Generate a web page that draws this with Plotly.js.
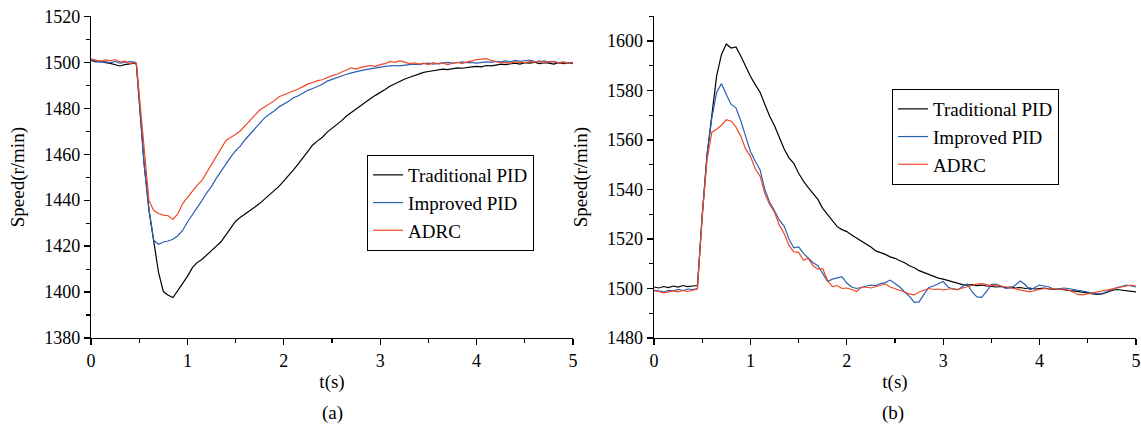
<!DOCTYPE html>
<html>
<head>
<meta charset="utf-8">
<script src="https://cdn.plot.ly/plotly-3.0.1.min.js"></script>
<style>html,body{margin:0;padding:0;background:#fff;}#chart{width:1141px;height:430px;}</style>
</head>
<body>
<div id="chart"></div>
<script>
// time samples (s), shared by both panels
const time = [0,0.05,0.1,0.15,0.2,0.25,0.3,0.35,0.4,0.45,0.47,0.5,0.55,0.6,0.65,0.7,0.75,0.8,0.85,0.9,0.95,
1.0,1.05,1.1,1.15,1.2,1.25,1.3,1.35,1.4,1.45,1.5,1.55,1.6,1.65,1.7,1.75,1.8,1.85,1.9,1.95,
2.0,2.05,2.1,2.15,2.2,2.25,2.3,2.35,2.4,2.45,2.5,2.55,2.6,2.65,2.7,2.75,2.8,2.85,2.9,2.95,
3.0,3.05,3.1,3.15,3.2,3.25,3.3,3.35,3.4,3.45,3.5,3.55,3.6,3.65,3.7,3.75,3.8,3.85,3.9,3.95,
4.0,4.05,4.1,4.15,4.2,4.25,4.3,4.35,4.4,4.45,4.5,4.55,4.6,4.65,4.7,4.75,4.8,4.85,4.9,4.95,5.0];

const seriesNames = ["Traditional PID", "Improved PID", "ADRC"];

// (a) speed drop
const a_traditional = [1500.8,1500.2,1500.5,1499.8,1499.5,1498.8,1498.4,1499.0,1499.3,1499.6,1499.2,1484.0,1456.0,1436.0,1423.0,1408.5,1400.2,1398.6,1397.6,1400.5,1403.8,
1406.8,1410.5,1412.8,1414.2,1416.0,1418.2,1420.0,1422.0,1425.0,1428.2,1430.8,1432.6,1434.0,1435.6,1437.0,1438.6,1440.4,1442.0,1443.8,1446.0,
1448.4,1450.6,1453.2,1455.8,1458.4,1461.2,1464.0,1465.8,1467.4,1469.6,1471.2,1472.8,1474.6,1476.6,1478.2,1479.8,1481.2,1482.8,1484.2,1485.6,
1486.8,1488.2,1489.6,1490.6,1491.8,1492.6,1493.4,1494.2,1494.8,1495.6,1496.0,1496.4,1496.8,1497.0,1496.8,1497.2,1497.6,1497.4,1497.8,1498.0,
1498.2,1498.0,1498.6,1498.4,1498.8,1499.2,1499.0,1499.4,1499.6,1499.2,1499.8,1499.6,1500.0,1499.4,1499.8,1499.6,1499.2,1499.8,1499.4,1499.8,1499.4];
const a_improved = [1501.0,1500.6,1500.0,1500.3,1499.8,1500.4,1499.6,1499.9,1500.3,1500.1,1499.5,1484.0,1456.0,1436.0,1422.5,1420.8,1421.8,1422.2,1423.0,1424.5,1426.8,
1430.5,1433.6,1436.2,1439.8,1443.2,1446.0,1449.6,1452.8,1456.0,1458.8,1461.5,1463.6,1466.4,1468.8,1471.4,1473.6,1475.8,1477.4,1478.8,1480.6,
1481.8,1483.0,1484.6,1485.4,1486.6,1487.8,1488.6,1489.6,1490.4,1491.8,1492.6,1493.4,1494.0,1494.8,1495.4,1496.0,1496.4,1496.8,1497.2,1497.6,
1497.8,1498.2,1498.4,1498.6,1498.4,1498.8,1499.0,1499.2,1499.0,1499.4,1499.6,1499.2,1499.6,1499.8,1500.0,1499.6,1499.8,1500.2,1499.8,1500.0,
1499.6,1499.8,1500.2,1500.0,1500.4,1500.2,1500.6,1500.2,1500.8,1500.4,1500.6,1501.0,1500.4,1500.2,1500.6,1500.0,1500.4,1499.8,1500.2,1499.6,1500.0];
const a_adrc = [1501.5,1500.9,1500.4,1501.0,1500.6,1501.2,1500.2,1500.5,1499.4,1499.8,1499.6,1486.0,1462.0,1440.0,1435.5,1434.2,1433.5,1433.2,1431.6,1434.0,1438.5,
1441.2,1443.5,1446.4,1448.6,1452.0,1455.4,1459.0,1462.8,1466.0,1467.4,1468.6,1470.2,1472.6,1474.8,1477.0,1479.2,1480.6,1481.8,1483.2,1485.0,
1485.8,1486.8,1487.6,1488.4,1489.4,1490.6,1491.2,1492.0,1492.4,1493.4,1494.2,1494.8,1495.8,1496.6,1497.6,1497.0,1497.8,1498.2,1498.6,1498.2,
1499.0,1499.4,1500.4,1500.0,1500.6,1500.2,1499.4,1499.8,1499.2,1499.6,1499.0,1499.8,1499.2,1499.6,1499.0,1499.6,1500.0,1499.4,1500.2,1500.6,
1501.2,1501.4,1501.6,1500.8,1500.2,1499.8,1500.0,1499.6,1500.2,1500.0,1499.8,1500.4,1500.0,1500.6,1499.8,1500.4,1500.2,1499.6,1500.0,1499.8,1499.6];

// (b) speed overshoot
const b_traditional = [1500.6,1500.2,1500.8,1500.4,1501.0,1500.6,1501.2,1500.8,1501.0,1501.2,1512.0,1529.5,1554.0,1570.0,1586.0,1594.6,1598.8,1597.2,1597.6,1594.0,1589.6,
1585.8,1582.4,1579.3,1574.4,1569.6,1565.8,1561.2,1556.4,1552.8,1550.6,1546.6,1543.4,1540.8,1538.2,1536.0,1532.4,1530.0,1527.6,1525.0,1523.8,
1523.0,1521.6,1520.4,1519.0,1517.8,1516.8,1515.2,1514.6,1513.8,1512.8,1512.2,1511.2,1510.4,1509.2,1508.4,1507.2,1506.4,1505.6,1505.0,1504.2,
1503.8,1503.2,1502.6,1502.2,1501.6,1501.4,1501.6,1501.2,1501.4,1501.0,1500.8,1500.6,1500.8,1500.4,1500.6,1500.2,1500.4,1500.0,1500.2,1499.8,
1500.0,1500.2,1499.8,1499.6,1499.8,1499.4,1499.2,1499.0,1498.8,1498.6,1498.2,1497.8,1497.6,1497.8,1498.6,1499.2,1499.6,1499.4,1499.0,1498.8,1498.6];
const b_improved = [1499.4,1499.0,1498.6,1499.2,1499.0,1499.6,1499.2,1499.8,1499.6,1500.0,1512.0,1529.5,1554.0,1569.0,1579.3,1582.8,1578.4,1574.4,1573.0,1567.8,1561.6,
1555.4,1551.4,1548.0,1540.0,1534.8,1531.4,1527.6,1525.2,1520.0,1516.4,1516.8,1514.2,1512.2,1510.4,1509.2,1505.8,1502.8,1503.8,1504.2,1504.8,
1502.2,1500.6,1500.0,1500.4,1500.8,1501.4,1501.2,1502.0,1502.4,1503.4,1502.0,1500.6,1498.6,1496.8,1494.4,1494.6,1497.6,1500.4,1501.0,1502.0,
1502.8,1500.6,1499.8,1499.4,1500.8,1501.8,1498.6,1496.6,1496.4,1498.8,1501.6,1501.8,1500.8,1500.0,1500.2,1501.4,1503.0,1501.6,1499.4,1500.4,
1501.4,1501.0,1500.6,1499.6,1499.8,1500.2,1500.0,1499.6,1499.4,1499.0,1498.6,1498.0,1497.8,1498.0,1498.8,1499.8,1500.4,1500.8,1501.4,1501.0,1500.6];
const b_adrc = [1499.0,1498.8,1498.2,1498.6,1499.0,1498.6,1499.2,1498.8,1499.4,1499.8,1512.0,1529.0,1552.0,1563.2,1564.4,1566.0,1568.2,1567.6,1565.2,1561.6,1556.4,
1553.4,1548.4,1545.4,1538.4,1534.0,1530.8,1525.6,1522.2,1517.4,1514.8,1514.6,1511.4,1512.2,1509.2,1507.8,1508.0,1503.2,1500.8,1501.2,1500.0,
1500.2,1499.6,1498.8,1500.4,1500.6,1500.2,1500.8,1501.4,1501.8,1500.6,1500.0,1499.2,1498.6,1497.8,1497.4,1498.6,1499.2,1500.0,1499.6,1499.8,
1499.4,1499.8,1500.0,1499.6,1500.2,1500.6,1501.2,1501.8,1502.0,1501.6,1501.2,1501.4,1501.0,1500.4,1500.0,1499.6,1499.2,1498.8,1498.6,1499.2,
1499.6,1500.0,1499.8,1500.0,1499.6,1499.8,1499.4,1498.6,1497.6,1497.4,1497.8,1498.4,1498.8,1499.2,1499.6,1500.0,1500.4,1500.8,1501.2,1501.4,1501.0];

const colors = ["#000000", "#2b5fb4", "#ef4824"];
const serif = "Liberation Serif";

function mk(y, i, xa, ya, leg) {
  return {x: time, y: y, type: "scatter", mode: "lines", name: seriesNames[i],
    xaxis: xa, yaxis: ya, legend: leg, line: {color: colors[i], width: 1.2}};
}
const data = [
  mk(a_traditional, 0, "x", "y", "legend"),
  mk(a_improved, 1, "x", "y", "legend"),
  mk(a_adrc, 2, "x", "y", "legend"),
  mk(b_traditional, 0, "x2", "y2", "legend2"),
  mk(b_improved, 1, "x2", "y2", "legend2"),
  mk(b_adrc, 2, "x2", "y2", "legend2")
];

const tickf = {family: serif, size: 18, color: "#000"};
const titlef = {family: serif, size: 19, color: "#000"};
function xax(dom) {
  return {domain: dom, range: [0, 5], dtick: 1, tick0: 0, showgrid: false, zeroline: false,
    showline: true, linecolor: "#000", linewidth: 1.3, ticks: "outside", ticklen: 6, tickwidth: 1.2, tickcolor: "#000",
    minor: {ticks: "outside", ticklen: 3.5, dtick: 0.5, tickcolor: "#000", tickwidth: 1.1, showgrid: false},
    tickfont: tickf, title: {text: "t(s)", font: titlef, standoff: 4}, fixedrange: true};
}
function yax(rng, anchor) {
  return {domain: [0.214, 0.962], range: rng, dtick: 20, showgrid: false, zeroline: false, anchor: anchor,
    showline: true, linecolor: "#000", linewidth: 1.3, ticks: "outside", ticklen: 6, tickwidth: 1.2, tickcolor: "#000",
    minor: {ticks: "outside", ticklen: 3.5, dtick: 10, tickcolor: "#000", tickwidth: 1.1, showgrid: false},
    tickfont: tickf, title: {text: "Speed(r/min)", font: titlef, standoff: 14}, fixedrange: true};
}
const legBase = {xanchor: "left", yanchor: "top", bgcolor: "#ffffff", bordercolor: "#000", borderwidth: 1,
  font: {family: serif, size: 19, color: "#000"}, tracegroupgap: 0, itemwidth: 30};

const layout = {
  width: 1141, height: 430,
  margin: {l: 0, r: 0, t: 0, b: 0},
  paper_bgcolor: "#fff", plot_bgcolor: "#fff",
  showlegend: true,
  xaxis: Object.assign(xax([0.0798, 0.5022]), {anchor: "y"}),
  yaxis: yax([1380, 1520], "x"),
  xaxis2: Object.assign(xax([0.5732, 0.9956]), {anchor: "y2"}),
  yaxis2: yax([1480, 1610], "x2"),
  legend: Object.assign({}, legBase, {x: 0.3217, y: 0.6395}),
  legend2: Object.assign({}, legBase, {x: 0.7818, y: 0.793}),
  annotations: [
    {text: "(a)", xref: "paper", yref: "paper", x: 0.291, y: 0.0395, xanchor: "center", yanchor: "middle", showarrow: false, font: titlef},
    {text: "(b)", xref: "paper", yref: "paper", x: 0.7827, y: 0.0395, xanchor: "center", yanchor: "middle", showarrow: false, font: titlef}
  ]
};
Plotly.newPlot("chart", data, layout, {displayModeBar: false, staticPlot: true});
</script>
</body>
</html>
